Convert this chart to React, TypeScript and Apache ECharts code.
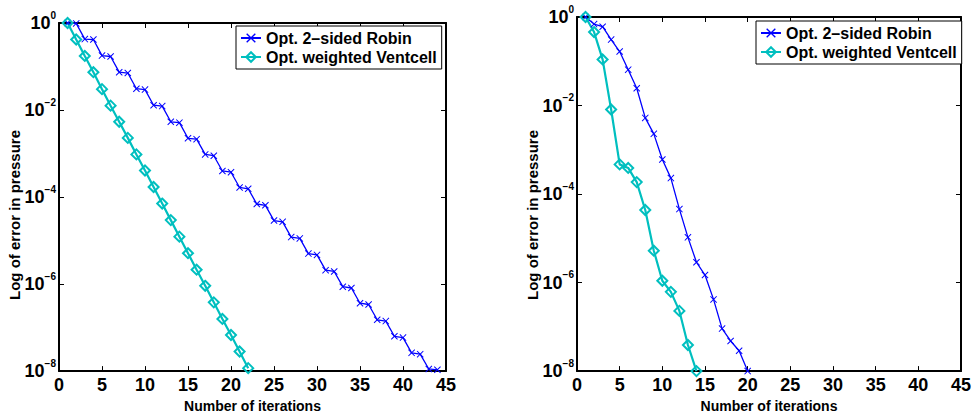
import React, { useEffect, useRef } from "react";
import * as echarts from "echarts";

// Left panel
const leftRobinIter = [1,2,3,4,5,6,7,8,9,10,11,12,13,14,15,16,17,18,19,20,21,22,23,24,25,26,27,28,29,30,31,32,33,34,35,36,37,38,39,40,41,42,43,44];
const leftRobin = [1, 0.98, 0.427, 0.417, 0.178, 0.170, 0.0741, 0.0708, 0.0309, 0.0295, 0.0129, 0.0123, 5.37e-3, 5.13e-3, 2.24e-3, 2.14e-3, 9.55e-4, 8.91e-4, 3.98e-4, 3.72e-4, 1.66e-4, 1.55e-4, 6.92e-5, 6.46e-5, 2.88e-5, 2.69e-5, 1.20e-5, 1.12e-5, 5.01e-6, 4.68e-6, 2.09e-6, 1.95e-6, 8.71e-7, 8.13e-7, 3.63e-7, 3.39e-7, 1.51e-7, 1.41e-7, 6.31e-8, 5.89e-8, 2.63e-8, 2.45e-8, 1.12e-8, 1.07e-8];
const leftVentIter = [1,2,3,4,5,6,7,8,9,10,11,12,13,14,15,16,17,18,19,20,21,22];
const leftVent = [1, 0.417, 0.175, 0.0741, 0.0302, 0.0126, 5.37e-3, 2.29e-3, 9.55e-4, 4.07e-4, 1.70e-4, 7.08e-5, 2.95e-5, 1.23e-5, 5.13e-6, 2.14e-6, 9.12e-7, 3.80e-7, 1.58e-7, 6.76e-8, 2.82e-8, 1.17e-8];

// Right panel
const rightRobinIter = [1,2,3,4,5,6,7,8,9,10,11,12,13,14,15,16,17,18,19,20];
const rightRobin = [1, 0.692, 0.603, 0.309, 0.166, 0.0646, 0.0245, 5.25e-3, 2.29e-3, 6.03e-4, 2.29e-4, 4.57e-5, 1.05e-5, 2.88e-6, 1.48e-6, 4.17e-7, 9.12e-8, 4.79e-8, 2.88e-8, 1.0e-8];
const rightVentIter = [1,2,3,4,5,6,7,8,9,10,11,12,13,14];
const rightVent = [1, 0.457, 0.110, 8.13e-3, 4.68e-4, 3.89e-4, 1.86e-4, 4.37e-5, 5.25e-6, 1.10e-6, 6.17e-7, 2.29e-7, 3.89e-8, 1.0e-8];

const seriesNames = ["Opt. 2\u2013sided Robin", "Opt. weighted Ventcell"];
const xTicks = { min: 0, max: 45, interval: 5 };
const yRange = { min: 1e-8, max: 1 };
const xLabel = "Number of iterations";
const yLabel = "Log of error in pressure";

const BLUE = "#0000ff";
const CYAN = "#00bfbf";
const FONT = "Liberation Sans, Arial, sans-serif";
const X_SYMBOL = "path://M0,1 L1,0 L5,4 L9,0 L10,1 L6,5 L10,9 L9,10 L5,6 L1,10 L0,9 L4,5 Z";

const zip = (xs: number[], ys: number[]) => xs.map((x, i) => [x, ys[i]]);

export default function App() {
  const ref = useRef<HTMLDivElement>(null);
  useEffect(() => {
    document.body.style.margin = "0";
    const chart = echarts.init(ref.current!, null, { renderer: "svg" });
    const grids = [
      { left: 59, top: 23, width: 387, height: 356 },
      { left: 577, top: 17, width: 387, height: 367 },
    ];
    const axisLine = { show: true, onZero: false, lineStyle: { color: "#000", width: 2 } };
    const tick = { show: true, inside: true, length: 5, lineStyle: { color: "#000", width: 1 } };
    const xAxes: any[] = [];
    const yAxes: any[] = [];
    grids.forEach((_, g) => {
      xAxes.push({
        type: "value", gridIndex: g, position: "bottom", ...xTicks,
        axisLine, axisTick: tick, splitLine: { show: false },
        axisLabel: { color: "#000", fontSize: 18, fontWeight: "bold", fontFamily: FONT, margin: 5 },
        name: xLabel, nameLocation: "middle", nameGap: 27,
        nameTextStyle: { color: "#000", fontSize: 14, fontWeight: "bold", fontFamily: FONT },
      });
      xAxes.push({
        type: "value", gridIndex: g, position: "top", ...xTicks,
        axisLine, axisTick: tick, splitLine: { show: false }, axisLabel: { show: false },
      });
      yAxes.push({
        type: "log", logBase: 100, gridIndex: g, position: "left", ...yRange, splitNumber: 4,
        axisLine, axisTick: tick, splitLine: { show: false }, minorTick: { show: false },
        axisLabel: {
          margin: 3,
          formatter: (v: number) => {
            const e = Math.round(Math.log10(v));
            return `{b|10}{s|${e === 0 ? "0" : "\u2212" + -e}}`;
          },
          rich: {
            b: { color: "#000", fontSize: 18, fontWeight: "bold", fontFamily: FONT, lineHeight: 26 },
            s: { color: "#000", fontSize: 10, fontWeight: "bold", fontFamily: FONT, lineHeight: 12, verticalAlign: "top" },
          },
        },
      });
      yAxes.push({
        type: "log", logBase: 100, gridIndex: g, position: "right", ...yRange, splitNumber: 4,
        axisLine, axisTick: tick, splitLine: { show: false }, axisLabel: { show: false },
      });
    });
    const mk = (name: string, data: number[][], g: number, blue: boolean) => ({
      type: "line", name, xAxisIndex: g * 2, yAxisIndex: g * 2, data,
      symbol: blue ? X_SYMBOL : "diamond",
      symbolSize: blue ? 7 : 10,
      lineStyle: { color: blue ? BLUE : CYAN, width: blue ? 1.3 : 2.2 },
      itemStyle: blue
        ? { color: BLUE }
        : { color: "rgba(0,0,0,0)", borderColor: CYAN, borderWidth: 2 },
      emphasis: { disabled: true },
    });
    const legendBase = {
      orient: "vertical", data: seriesNames, borderColor: "#000", borderWidth: 1,
      backgroundColor: "#fff", padding: [4, 5, 4, 4], itemGap: 3, itemWidth: 20, itemHeight: 12,
      textStyle: { color: "#000", fontSize: 16, fontWeight: "bold", fontFamily: FONT, lineHeight: 16 },
      selectedMode: false,
    };
    chart.setOption({
      animation: false,
      backgroundColor: "#fff",
      grid: grids,
      xAxis: xAxes,
      yAxis: yAxes,
      legend: [
        { ...legendBase, left: 236, top: 26 },
        { ...legendBase, left: 756, top: 21 },
      ],
      graphic: [
        { type: "text", x: 14, y: 215, rotation: Math.PI / 2,
          style: { text: yLabel, fill: "#000", font: `bold 15px ${FONT}`, textAlign: "center", textVerticalAlign: "middle" } },
        { type: "text", x: 532, y: 215, rotation: Math.PI / 2,
          style: { text: yLabel, fill: "#000", font: `bold 15px ${FONT}`, textAlign: "center", textVerticalAlign: "middle" } },
      ],
      series: [
        mk(seriesNames[0], zip(leftRobinIter, leftRobin), 0, true),
        mk(seriesNames[1], zip(leftVentIter, leftVent), 0, false),
        mk(seriesNames[0], zip(rightRobinIter, rightRobin), 1, true),
        mk(seriesNames[1], zip(rightVentIter, rightVent), 1, false),
      ],
    });
    return () => chart.dispose();
  }, []);
  return <div ref={ref} style={{ width: 974, height: 418 }} />;
}
